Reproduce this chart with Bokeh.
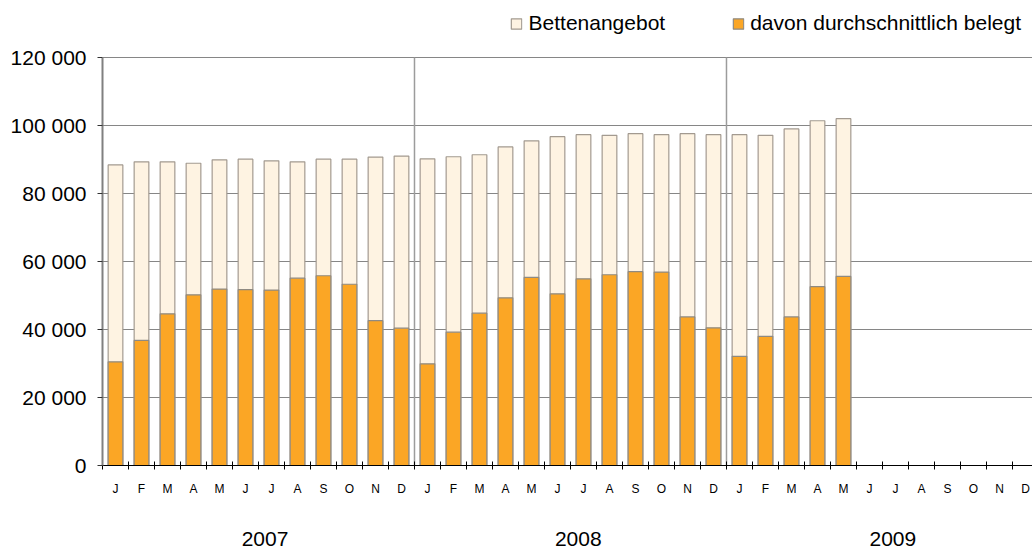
from bokeh.plotting import figure
from bokeh.models import (Range1d, LinearAxis, FixedTicker, Grid, Legend, LegendItem,
                          ColumnDataSource)
from bokeh.embed import file_html
from bokeh.resources import INLINE

# ---------------- data ----------------
months = ["J", "F", "M", "A", "M", "J", "J", "A", "S", "O", "N", "D"]
years = ["2007", "2008", "2009"]
beds_offered = [88400, 89300, 89300, 88900, 89900, 90100, 89600, 89300, 90100, 90100, 90700, 91000,
                90200, 90800, 91400, 93700, 95500, 96700, 97300, 97100, 97600, 97300, 97600, 97300,
                97300, 97100, 99000, 101400, 102000]
beds_occupied = [30500, 36800, 44600, 50200, 51900, 51700, 51600, 55100, 55800, 53300, 42600, 40400,
                 29900, 39200, 44800, 49300, 55300, 50500, 54900, 56100, 57000, 56900, 43700, 40500,
                 32100, 38000, 43700, 52600, 55600]
y_ticks = [0, 20000, 40000, 60000, 80000, 100000, 120000]
y_tick_labels = ["0", "20 000", "40 000", "60 000", "80 000", "100 000", "120 000"]
series_names = ["Bettenangebot", "davon durchschnittlich belegt"]

FONT = "Liberation Sans"
Y_MAX = 120000
n_slots = len(months) * len(years)
x_pos = [i + 0.5 for i in range(len(beds_offered))]

src = ColumnDataSource(dict(x=x_pos, total=beds_offered, occ=beds_occupied))

p = figure(width=1032, height=553, output_backend="svg", toolbar_location=None,
           x_range=Range1d(0, 35.77), y_range=Range1d(0, 136760),
           x_axis_location=None, y_axis_location=None,
           min_border_left=102, min_border_right=0, min_border_top=0, min_border_bottom=88)
p.center = []
p.outline_line_color = None
p.background_fill_color = "white"
p.border_fill_color = "white"

# y axis
yax = LinearAxis(ticker=FixedTicker(ticks=y_ticks), bounds=(0, Y_MAX),
                 major_label_overrides={t: l for t, l in zip(y_ticks, y_tick_labels)})
yax.axis_line_color = "#808080"
yax.axis_line_width = 2
yax.major_tick_line_color = "#333333"
yax.major_tick_in = 0
yax.major_tick_out = 5
yax.minor_tick_line_color = None
yax.major_label_standoff = 11
yax.major_label_text_font = FONT
yax.major_label_text_font_size = "21px"
yax.major_label_text_color = "black"
p.add_layout(yax, "left")

# horizontal grid
p.add_layout(Grid(dimension=1, ticker=FixedTicker(ticks=y_ticks),
                  grid_line_color="#868686", grid_line_width=1))

# year separators (at the boundaries between years)
sep_x = [len(months) * k for k in range(1, len(years))]
p.segment(x0=sep_x, y0=[0] * len(sep_x), x1=sep_x, y1=[Y_MAX] * len(sep_x),
          line_color="#9c9c9c", line_width=1.5)

# month axis: labels at slot centres, minor ticks at slot boundaries
month_centers = [i + 0.5 for i in range(n_slots)]
xm = LinearAxis(ticker=FixedTicker(ticks=month_centers, minor_ticks=list(range(0, n_slots + 1))),
                major_label_overrides={c: months[i % 12] for i, c in enumerate(month_centers)})
xm.axis_line_color = "black"
xm.major_tick_line_color = None
xm.major_tick_in = 0
xm.major_tick_out = 0
xm.minor_tick_line_color = "black"
xm.minor_tick_in = 4
xm.minor_tick_out = 4
xm.major_label_standoff = 12
xm.major_label_text_font = FONT
xm.major_label_text_font_size = "12px"
xm.major_label_text_color = "black"
p.add_layout(xm, "below")

# year labels
year_centers = [6.25, 18.3, 30.4]
xy = LinearAxis(ticker=FixedTicker(ticks=year_centers),
                major_label_overrides={c: y for c, y in zip(year_centers, years)})
xy.axis_line_color = None
xy.major_tick_line_color = None
xy.major_tick_in = 0
xy.major_tick_out = 0
xy.minor_tick_line_color = None
xy.major_label_standoff = 33
xy.major_label_text_font = FONT
xy.major_label_text_font_size = "21px"
xy.major_label_text_color = "black"
p.add_layout(xy, "below")

# bars
r1 = p.vbar(x="x", top="total", bottom=0, width=0.565, source=src,
            fill_color="#FEF3E2", line_color="#a39a90", line_width=1.2)
r2 = p.vbar(x="x", top="occ", bottom=0, width=0.565, source=src,
            fill_color="#FBA625", line_color="#8f8a82", line_width=1.2)

legend = Legend(items=[LegendItem(label=series_names[0], renderers=[r1]),
                       LegendItem(label=series_names[1], renderers=[r2])],
                orientation="horizontal", location="top_right")
legend.label_text_font = FONT
legend.label_text_font_size = "21px"
legend.label_text_color = "black"
legend.glyph_width = 13
legend.glyph_height = 13
legend.label_standoff = 6
legend.spacing = 66
legend.padding = 0
legend.margin = 11
legend.border_line_color = None
legend.background_fill_alpha = 0
p.add_layout(legend, "center")

open("out.html", "w").write(file_html(p, INLINE))
